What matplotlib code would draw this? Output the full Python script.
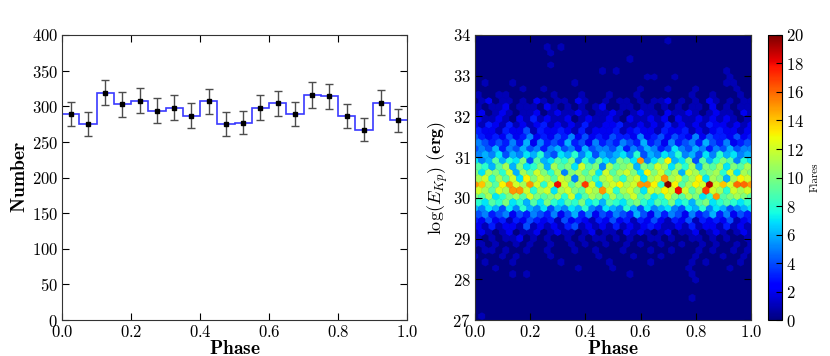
import numpy as np
import matplotlib
matplotlib.use("Agg")
import matplotlib.pyplot as plt

plt.rcParams['font.family'] = 'serif'
plt.rcParams['font.serif'] = ['cmr10', 'DejaVu Serif']
plt.rcParams['mathtext.fontset'] = 'cm'
plt.rcParams['axes.formatter.use_mathtext'] = True
plt.rcParams['axes.unicode_minus'] = False

# left panel: flares per phase bin (20 bins)
phase_counts = [289, 275, 319, 303, 308, 294, 298, 287, 307, 275,
                277, 298, 304, 289, 316, 314, 286, 267, 305, 280]
count_errors = [17.0, 16.6, 17.9, 17.4, 17.5, 17.1, 17.3, 16.9, 17.5, 16.6,
                16.6, 17.3, 17.4, 17.0, 17.8, 17.7, 16.9, 16.3, 17.5, 16.7]

# right panel: hexbin counts, one string per hex row,
# top row (log E ~ 33.85) first; 0-9 then a=10 ... k=20
energy_rows = [
    "0000000000 0000000000 0000000010 0000000000 0",
    "0000000000 1010000000 0000000000 0000000000",
    "0000000000 0100000000 0000000000 0000000000 0",
    "0000000000 0000000000 0010000000 0000000000",
    "0000000000 0100000000 0000000000 0000000000 0",
    "0000000000 0000000010 1000000000 0000001000",
    "0000000000 0000000000 0000011001 0000000100 0",
    "0100010000 0000100000 0000000000 0000001100",
    "0000000100 1000000000 0000100010 0010000010 0",
    "1001100000 0100010001 0001000000 0100100010",
    "0120110102 1011021001 0110101120 1010210101 1",
    "1011201110 2101010120 0110110101 0110201011",
    "1201210112 0121121011 2101211021 1210121102 1",
    "2112102131 2112012112 1021121202 1121212101",
    "2132131212 3121213112 2311212131 2121322121 2",
    "3221322413 2232131222 3123221322 3121232212",
    "4323242352 3243524232 4332523424 3252433242 3",
    "5434353625 3436342534 3543634253 4536435234",
    "4546354645 3564536455 4635465347 5465354645 5",
    "5657465768 5476857465 6758465768 5647586756",
    "7569687a49 6798a58697 6a97f579d6 7a4968a958 7",
    "9869b6a78a 6b9a7c9a5b 9ab6a9cb7a 8b6a9b7a9b",
    "a7ba8c6b9c a8b5ab9b7c 9bca7dac9b 6cb9ab8c7b a",
    "bc8b9c7dac b9cb5ba8bc a8bc7bcfbc 9bd7ba6bdc",
    "feb9dfcbfc 8cic9bhc7b cdbcffd8kd 9bdcjcecgg f",
    "cb9cbffc8b c7bca9cbfc 8bca7cbdci c9bhcb8cbc",
    "a9b78ab9ca 9ab8c79ba8 b9ac9a78ca 9ba78f9aba 9",
    "8798a78697 a8798a7869 879a8798a7 869a789878",
    "6576475865 7465768547 6586475675 4768576456 7",
    "4534524354 3524635243 5436425354 2534635243",
    "3242313243 2314232132 4231324213 2413232412 3",
    "2131221412 1213412121 3121232112 1312213121",
    "1210120112 0121101201 1021210120 1120121012 1",
    "1010112010 1001010110 1010011010 0110101001",
    "1101001010 0100101001 0010100100 1001010010 1",
    "0110100100 1000100100 0100010010 0010100101",
    "1000101000 0100000010 0001000100 0010001001 0",
    "0100010000 0010000001 0000010000 0101000010",
    "0001000000 0000010000 1000000000 0100000100 0",
    "0000010100 0000000000 0010000000 0100000000",
    "0000000000 0000000000 0000000000 0010000000 0",
    "0000000000 0000000000 0000000000 0000000000",
    "0000000000 0000000000 0000000000 0000000000 0",
    "0000000000 0000000000 0000000000 0100000000",
    "0000000000 0000000000 0000000000 0000000000 0",
    "0000000000 0000000000 0000000000 0000000000",
    "0100000000 0000000000 0000000000 0000000000 0",
]

nx, ny = 40, 23
xmin, xmax, ymin, ymax = 0.0, 1.0, 27.1, 33.85
sx = (xmax - xmin) / nx
sy = (ymax - ymin) / ny
digits = "0123456789abcdefghijk"

hx, hy, hc = [], [], []
for k, row in enumerate(energy_rows[::-1]):
    row = row.replace(" ", "")
    if k % 2 == 0:
        n = nx + 1
        xs = xmin + np.arange(n) * sx
        yv = ymin + (k // 2) * sy
    else:
        n = nx
        xs = xmin + (np.arange(n) + 0.5) * sx
        yv = ymin + (k // 2 + 0.5) * sy
    row = row.ljust(n, "0")[:n]
    for xv, ch in zip(xs, row):
        hx.append(xv)
        hy.append(yv)
        hc.append(digits.index(ch))

fig = plt.figure(figsize=(8.3, 3.56), dpi=100)

# ---- left: histogram
ax1 = fig.add_axes([0.0747, 0.1011, 0.4157, 0.8006])
edges = np.linspace(0, 1, len(phase_counts) + 1)
centres = 0.5 * (edges[:-1] + edges[1:])
ax1.stairs(phase_counts, edges, baseline=None, color='#3a3aff', lw=1.2)
ax1.errorbar(centres, phase_counts, yerr=count_errors, fmt='s', color='k',
             ms=2.5, ecolor='0.3', elinewidth=1, capsize=3, capthick=1)
ax1.set_xlim(0, 1)
ax1.set_ylim(0, 400)
ax1.set_xticks(np.arange(0, 1.01, 0.2))
ax1.set_yticks(np.arange(0, 401, 50))
ax1.set_xlabel(r'$\mathbf{Phase}$', fontsize=14, labelpad=0)
ax1.set_ylabel(r'$\mathbf{Number}$', fontsize=14, labelpad=2)

# ---- right: hexbin
ax2 = fig.add_axes([0.5723, 0.1011, 0.3325, 0.8006])
cmap = plt.get_cmap('jet')
hb = ax2.hexbin(hx, hy, C=hc, reduce_C_function=np.sum, gridsize=(nx, ny),
                extent=(xmin, xmax, ymin, ymax), cmap=cmap, vmin=0, vmax=20,
                linewidths=0.3, edgecolors='face')
ax2.set_facecolor(cmap(0.0))
ax2.set_xlim(0, 1)
ax2.set_ylim(27, 34)
ax2.set_xticks(np.arange(0, 1.01, 0.2))
ax2.set_yticks(np.arange(27, 35, 1))
ax2.set_xlabel(r'$\mathbf{Phase}$', fontsize=14, labelpad=0)
ax2.set_ylabel(r'$\log(E_{Kp})$ $\mathbf{(erg)}$', fontsize=13, labelpad=2)

for ax in (ax1, ax2):
    ax.tick_params(direction='in', top=True, right=True, length=5,
                   labelsize=12, pad=3)
    for sp in ax.spines.values():
        sp.set_color('0.2')

cax = fig.add_axes([0.9253, 0.1011, 0.0169, 0.8006])
cb = fig.colorbar(hb, cax=cax, ticks=range(0, 21, 2))
cb.ax.tick_params(direction='in', length=4, labelsize=12, pad=3)
cb.set_label('Flares', fontsize=8, labelpad=4)

fig.savefig('out.png', dpi=100)
